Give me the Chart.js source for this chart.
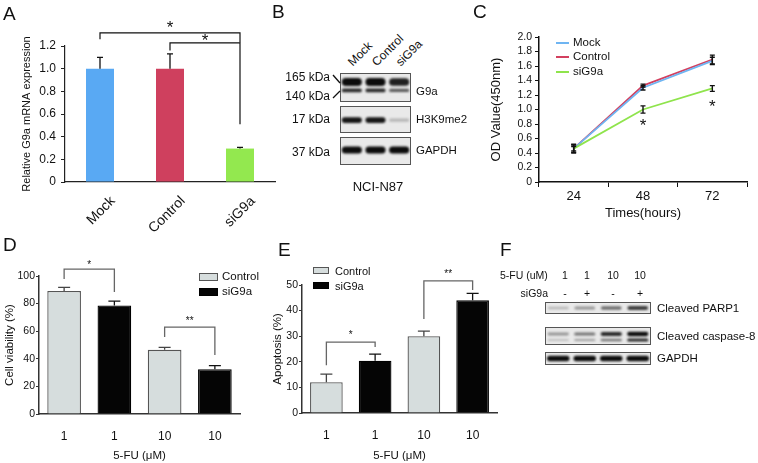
<!DOCTYPE html>
<html>
<head>
<meta charset="utf-8">
<script src="https://cdn.jsdelivr.net/npm/chart.js@4.4.1/dist/chart.umd.min.js"></script>
<style>
  html, body { margin: 0; padding: 0; background: #fff; }
  #fig { position: relative; width: 758px; height: 463px; overflow: hidden; font-family: 'Liberation Sans', Arial, sans-serif; color: #111; }
  #fig canvas, #fig svg { position: absolute; }
  .abs { position: absolute; white-space: nowrap; line-height: 1; }
  .swatch { position: absolute; box-sizing: border-box; }
</style>
</head>
<body>
<div id="fig"></div>
<script>
// A: relative G9a mRNA
const groupsA = ['Mock', 'Control', 'siG9a'];
const mrnaA = [1.0, 1.0, 0.295];
const mrnaErrA = [0.10, 0.13, 0.01];
const colorsA = ['#59a9f3', '#cf405e', '#93e84f'];
const sigA = [
  { from: 0, to: 2, y: 1.316, left: 1.26, right: 1.23, ty: 1.40, text: '*' },
  { from: 1, to: 2, y: 1.228, left: 1.16, right: 0.51, ty: 1.285, text: '*' },
];

// B: western blot, NCI-N87
const lanesB = ['Mock', 'Control', 'siG9a'];
const g9a165 = [1.0, 1.0, 0.9];
const g9a140 = [0.85, 0.85, 0.6];
const h3k9me2 = [0.95, 0.95, 0.12];
const gapdhB = [1, 1, 1];

// C: growth curve
const hoursC = ['24', '48', '72'];
const odMock = [0.46, 1.30, 1.67];
const odControl = [0.46, 1.33, 1.69];
const odSiG9a = [0.46, 1.00, 1.29];
const odErrMock = [0.06, 0.03, 0.05];
const odErrControl = [0.05, 0.02, 0.06];
const odErrSiG9a = [0.03, 0.05, 0.04];
const colorMock = '#6fb5f2';
const colorControl = '#d3405f';
const colorSiG9a = '#8fe44c';
const sigC = [
  { at: 1, ty: 0.83, text: '*' },
  { at: 2, ty: 1.09, text: '*' },
];

// D: cell viability
const doseLabels = ['1', '1', '10', '10'];
const viabilityControl = [89.2, null, 46.5, null];
const viabilityControlErr = [2.6, null, 1.8, null];
const viabilitySiG9a = [null, 78.6, null, 32.5];
const viabilitySiG9aErr = [null, 3.2, null, 2.6];
const sigD = [
  { from: 0, to: 1, y: 105, left: 97.8, right: 88.4, ty: 110, text: '*' },
  { from: 2, to: 3, y: 63, left: 55.8, right: 42.8, ty: 69.5, text: '**' },
];

// E: apoptosis
const apoptosisControl = [12, null, 30, null];
const apoptosisControlErr = [3.2, null, 2.0, null];
const apoptosisSiG9a = [null, 20.4, null, 44];
const apoptosisSiG9aErr = [null, 2.6, null, 2.7];
const sigE = [
  { from: 0, to: 1, y: 27.7, left: 18.7, right: 25.8, ty: 31.3, text: '*' },
  { from: 2, to: 3, y: 51.6, left: 36.7, right: 48, ty: 55.2, text: '**' },
];

// F: western blot, apoptosis markers
const doseF = ['1', '1', '10', '10'];
const siF = ['-', '+', '-', '+'];
const parp1 = [0.12, 0.3, 0.5, 0.75];
const casp8Upper = [0.3, 0.45, 0.85, 1.0];
const casp8Lower = [0.08, 0.25, 0.45, 0.85];
const gapdhF = [1, 1, 1, 1];

const controlFill = '#d6dddd';
const siFill = '#050505';

Chart.defaults.font.family = "'Liberation Sans', Arial, sans-serif";
Chart.defaults.color = '#111';
Chart.defaults.animation = false;
Chart.defaults.responsive = false;
Chart.defaults.devicePixelRatio = 1;
Chart.defaults.events = [];
Chart.defaults.plugins.legend.display = false;
Chart.defaults.plugins.tooltip.enabled = false;

const fig = document.getElementById('fig');

function makeCanvas(left, top, width, height) {
  const c = document.createElement('canvas');
  c.width = width;
  c.height = height;
  c.style.cssText = `left:${left}px;top:${top}px;width:${width}px;height:${height}px`;
  fig.appendChild(c);
  return c;
}

function text(str, x, y, size, align = 'left') {
  const d = document.createElement('div');
  d.className = 'abs';
  d.textContent = str;
  const tx = align === 'center' ? '-50%' : align === 'right' ? '-100%' : '0';
  d.style.cssText = `left:${x}px;top:${y}px;font-size:${size}px;transform:translate(${tx},-50%)`;
  fig.appendChild(d);
  return d;
}

function slanted(str, x, y, size) {
  const d = document.createElement('div');
  d.className = 'abs';
  d.textContent = str;
  d.style.cssText = `left:${x}px;top:${y}px;font-size:${size}px;transform-origin:0 0;transform:rotate(-45deg) translate(0,-50%)`;
  fig.appendChild(d);
}

function swatch(x, y, w, h, fill, border) {
  const d = document.createElement('div');
  d.className = 'swatch';
  d.style.cssText = `left:${x}px;top:${y}px;width:${w}px;height:${h}px;background:${fill};border:${border}`;
  fig.appendChild(d);
}

// error bars from dataset.errors
const errorBars = {
  id: 'errorBars',
  afterDatasetsDraw(chart, args, opts) {
    const { ctx } = chart;
    chart.data.datasets.forEach((ds, i) => {
      if (!ds.errors) return;
      const meta = chart.getDatasetMeta(i);
      const yScale = chart.scales[meta.yAxisID];
      meta.data.forEach((el, j) => {
        const v = ds.data[j];
        const e = ds.errors[j];
        if (v == null || e == null) return;
        const x = el.x;
        const top = yScale.getPixelForValue(v + e);
        const bottom = yScale.getPixelForValue(opts.both ? v - e : v);
        ctx.save();
        ctx.strokeStyle = ds.errorColor || opts.color;
        ctx.lineWidth = opts.width;
        ctx.beginPath();
        ctx.moveTo(x, top);
        ctx.lineTo(x, bottom);
        ctx.moveTo(x - opts.cap, top);
        ctx.lineTo(x + opts.cap, top);
        if (opts.both) {
          ctx.moveTo(x - opts.cap, bottom);
          ctx.lineTo(x + opts.cap, bottom);
        }
        ctx.stroke();
        ctx.restore();
      });
    });
  },
};

// significance brackets and stars
const sigMarks = {
  id: 'sigMarks',
  afterDraw(chart, args, opts) {
    const { ctx, scales: { x, y } } = chart;
    (opts.items || []).forEach(m => {
      ctx.save();
      ctx.strokeStyle = opts.color;
      ctx.fillStyle = opts.textColor || '#111';
      ctx.lineWidth = opts.width;
      let cx;
      if (m.from != null) {
        const x1 = x.getPixelForValue(m.from);
        const x2 = x.getPixelForValue(m.to);
        const yy = y.getPixelForValue(m.y);
        ctx.beginPath();
        ctx.moveTo(x1, y.getPixelForValue(m.left));
        ctx.lineTo(x1, yy);
        ctx.lineTo(x2, yy);
        ctx.lineTo(x2, y.getPixelForValue(m.right));
        ctx.stroke();
        cx = (x1 + x2) / 2;
      } else {
        cx = x.getPixelForValue(m.at);
      }
      ctx.font = `${opts.font}px 'Liberation Sans', Arial, sans-serif`;
      ctx.textAlign = 'center';
      ctx.textBaseline = 'alphabetic';
      ctx.fillText(m.text, cx, y.getPixelForValue(m.ty) + opts.font * 0.55);
      ctx.restore();
    });
  },
};

// blot membrane background, soft bands, frame
const membrane = {
  id: 'membrane',
  beforeDatasetsDraw(chart) {
    const { ctx, chartArea: a } = chart;
    ctx.save();
    ctx.fillStyle = '#e9e9e9';
    ctx.fillRect(a.left, a.top, a.width, a.height);
    ctx.restore();
    ctx.save();
    ctx.filter = 'blur(0.9px)';
  },
  afterDatasetsDraw(chart) {
    const { ctx, chartArea: a } = chart;
    ctx.restore();
    ctx.save();
    ctx.strokeStyle = '#555';
    ctx.lineWidth = 1;
    ctx.strokeRect(a.left + 0.5, a.top + 0.5, a.width - 1, a.height - 1);
    ctx.restore();
  },
};

function drawBlot(left, top, width, height, lanes, bands, bandWidth) {
  new Chart(makeCanvas(left, top, width, height), {
    type: 'bar',
    data: {
      labels: lanes,
      datasets: bands.map(b => ({
        data: b.levels.map(v => {
          const h = b.half * (0.5 + 0.5 * v);
          return [b.center - h, b.center + h];
        }),
        backgroundColor: b.levels.map(v => `rgba(12,12,12,${(0.12 + 0.88 * v).toFixed(2)})`),
        borderWidth: 0,
        borderRadius: 20,
        borderSkipped: false,
        barPercentage: bandWidth,
        categoryPercentage: 1,
        grouped: false,
      })),
    },
    options: {
      layout: { padding: 0 },
      scales: {
        x: { display: false },
        y: { display: false, min: 0, max: 1 },
      },
    },
    plugins: [membrane],
  });
}

const tickFmt = v => (v === 0 ? '0' : v.toFixed(1));

// ---------- A ----------
new Chart(makeCanvas(0, 0, 290, 240), {
  type: 'bar',
  data: {
    labels: groupsA,
    datasets: [{
      data: mrnaA,
      errors: mrnaErrA,
      backgroundColor: colorsA,
      barPercentage: 0.4,
      categoryPercentage: 1,
    }],
  },
  options: {
    layout: { padding: { top: 46, right: 15, left: 16, bottom: 0 } },
    scales: {
      x: {
        afterFit: s => { s.height = 58; },
        grid: { display: false },
        border: { color: '#222', width: 1.2 },
        ticks: { font: { size: 14 }, maxRotation: 45, minRotation: 45, padding: 3, labelOffset: 13 },
      },
      y: {
        min: 0,
        max: 1.2,
        afterFit: s => { s.width = 49; },
        grid: { drawOnChartArea: false, tickLength: 4, color: '#222' },
        border: { color: '#222', width: 1.2 },
        ticks: { stepSize: 0.2, autoSkip: false, font: { size: 12 }, padding: 5, callback: tickFmt },
        title: { display: true, text: 'Relative G9a mRNA expression', font: { size: 11 }, padding: { top: 4, bottom: 0 } },
      },
    },
    plugins: {
      errorBars: { color: '#111', width: 1.3, cap: 3 },
      sigMarks: { items: sigA, color: '#111', width: 1.2, font: 17 },
    },
  },
  plugins: [errorBars, sigMarks],
});

// ---------- B ----------
drawBlot(340, 73, 71, 29, lanesB, [
  { levels: g9a165, center: 0.69, half: 0.14 },
  { levels: g9a140, center: 0.40, half: 0.07 },
], 0.85);
drawBlot(340, 106, 71, 27, lanesB, [{ levels: h3k9me2, center: 0.48, half: 0.11 }], 0.85);
drawBlot(340, 137, 71, 28, lanesB, [{ levels: gapdhB, center: 0.54, half: 0.125 }], 0.85);

// ---------- C ----------
const lineStyle = { pointRadius: 0, borderWidth: 1.8, tension: 0, fill: false };
new Chart(makeCanvas(470, 0, 288, 228), {
  type: 'line',
  data: {
    labels: hoursC,
    datasets: [
      { label: 'siG9a', data: odSiG9a, errors: odErrSiG9a, borderColor: colorSiG9a, ...lineStyle },
      { label: 'Mock', data: odMock, errors: odErrMock, borderColor: colorMock, ...lineStyle },
      { label: 'Control', data: odControl, errors: odErrControl, borderColor: colorControl, ...lineStyle },
    ],
  },
  options: {
    layout: { padding: { top: 37, right: 11, left: 15, bottom: 3 } },
    scales: {
      x: {
        offset: true,
        afterFit: s => { s.height = 43; },
        grid: { offset: true, drawOnChartArea: false, tickLength: 5, color: '#111' },
        border: { color: '#111', width: 1.5 },
        ticks: { font: { size: 13 }, padding: 2 },
        title: { display: true, text: 'Times(hours)', font: { size: 13 }, padding: { top: 0, bottom: 4 } },
      },
      y: {
        min: 0,
        max: 2,
        afterFit: s => { s.width = 54; },
        grid: { drawOnChartArea: false, tickLength: 4, color: '#111' },
        border: { color: '#111', width: 1.5 },
        ticks: { stepSize: 0.2, autoSkip: false, font: { size: 10.5 }, padding: 3, callback: tickFmt },
        title: { display: true, text: 'OD Value(450nm)', font: { size: 13 }, padding: { top: 4, bottom: 0 } },
      },
    },
    plugins: {
      errorBars: { color: '#111', width: 1.4, cap: 2.5, both: true },
      sigMarks: { items: sigC, color: '#111', width: 1, font: 17 },
    },
  },
  plugins: [errorBars, sigMarks],
});

// ---------- D ----------
const barStyle = { barPercentage: 0.67, categoryPercentage: 1 };
new Chart(makeCanvas(0, 235, 258, 228), {
  type: 'bar',
  data: {
    labels: doseLabels,
    datasets: [
      { label: 'Control', data: viabilityControl, errors: viabilityControlErr, errorColor: '#444', backgroundColor: controlFill, borderColor: '#555', borderWidth: 1.3, ...barStyle },
      { label: 'siG9a', data: viabilitySiG9a, errors: viabilitySiG9aErr, errorColor: '#111', backgroundColor: siFill, borderColor: '#000', borderWidth: 1.3, ...barStyle },
    ],
  },
  options: {
    layout: { padding: { top: 41, right: 18, left: 0, bottom: 0 } },
    scales: {
      x: {
        stacked: true,
        afterFit: s => { s.height = 49; },
        grid: { display: false },
        border: { color: '#333', width: 1.5 },
        ticks: { font: { size: 12 }, padding: 7 },
        title: { display: true, text: '5-FU (μM)', font: { size: 11.5 }, padding: { top: 0, bottom: 0 } },
      },
      y: {
        min: 0,
        max: 100,
        afterFit: s => { s.width = 39; },
        grid: { drawOnChartArea: false, tickLength: 3, color: '#333' },
        border: { color: '#333', width: 1.5 },
        ticks: { stepSize: 20, autoSkip: false, font: { size: 10.5 }, padding: 1 },
        title: { display: true, text: 'Cell viability (%)', font: { size: 11.5 }, padding: { top: 3, bottom: 0 } },
      },
    },
    plugins: {
      errorBars: { color: '#333', width: 1.3, cap: 6 },
      sigMarks: { items: sigD, color: '#666', width: 1.3, font: 10 },
    },
  },
  plugins: [errorBars, sigMarks],
});

// ---------- E ----------
new Chart(makeCanvas(258, 235, 240, 228), {
  type: 'bar',
  data: {
    labels: doseLabels,
    datasets: [
      { label: 'Control', data: apoptosisControl, errors: apoptosisControlErr, errorColor: '#444', backgroundColor: controlFill, borderColor: '#555', borderWidth: 1.3, ...barStyle },
      { label: 'siG9a', data: apoptosisSiG9a, errors: apoptosisSiG9aErr, errorColor: '#111', backgroundColor: siFill, borderColor: '#000', borderWidth: 1.3, ...barStyle },
    ],
  },
  options: {
    layout: { padding: { top: 50, right: 1, left: 9, bottom: 0 } },
    scales: {
      x: {
        stacked: true,
        afterFit: s => { s.height = 50; },
        grid: { display: false },
        border: { color: '#333', width: 1.5 },
        ticks: { font: { size: 12 }, padding: 7 },
        title: { display: true, text: '5-FU (μM)', font: { size: 11.5 }, padding: { top: 0, bottom: 0 } },
      },
      y: {
        min: 0,
        max: 50,
        afterFit: s => { s.width = 35; },
        grid: { drawOnChartArea: false, tickLength: 3, color: '#333' },
        border: { color: '#333', width: 1.5 },
        ticks: { stepSize: 10, autoSkip: false, font: { size: 10.5 }, padding: 1 },
        title: { display: true, text: 'Apoptosis (%)', font: { size: 11.5 }, padding: { top: 4, bottom: 0 } },
      },
    },
    plugins: {
      errorBars: { color: '#333', width: 1.3, cap: 6 },
      sigMarks: { items: sigE, color: '#666', width: 1.3, font: 10 },
    },
  },
  plugins: [errorBars, sigMarks],
});

// ---------- F ----------
drawBlot(545, 302, 106, 12, doseF, [{ levels: parp1, center: 0.5, half: 0.2 }], 0.78);
drawBlot(545, 327, 106, 18, doseF, [
  { levels: casp8Upper, center: 0.61, half: 0.12 },
  { levels: casp8Lower, center: 0.28, half: 0.095 },
], 0.8);
drawBlot(545, 352, 106, 13, doseF, [{ levels: gapdhF, center: 0.5, half: 0.21 }], 0.85);

// ---------- labels ----------
text('A', 3, 13, 19);
text('B', 272, 11, 19);
text('C', 473, 11, 19);
text('D', 3, 244, 19);
text('E', 278, 249, 19);
text('F', 500, 249, 19);

// B annotations
lanesB.forEach((lane, i) => slanted(lane, 350 + i * 24, 64, 12));
text('165 kDa', 330, 77, 12, 'right');
text('140 kDa', 330, 96, 12, 'right');
text('17 kDa', 330, 119, 12, 'right');
text('37 kDa', 330, 152, 12, 'right');
text('G9a', 416, 92, 11.5);
text('H3K9me2', 416, 120, 11.5);
text('GAPDH', 416, 151, 11.5);
text('NCI-N87', 378, 186, 13, 'center');
const svgNS = 'http://www.w3.org/2000/svg';
const svg = document.createElementNS(svgNS, 'svg');
svg.setAttribute('width', '758');
svg.setAttribute('height', '463');
svg.style.left = '0px';
svg.style.top = '0px';
[[333, 75, 340, 83], [333, 98, 340, 91]].forEach(([x1, y1, x2, y2]) => {
  const l = document.createElementNS(svgNS, 'line');
  l.setAttribute('x1', x1); l.setAttribute('y1', y1);
  l.setAttribute('x2', x2); l.setAttribute('y2', y2);
  l.setAttribute('stroke', '#111'); l.setAttribute('stroke-width', '1.3');
  svg.appendChild(l);
});
fig.appendChild(svg);

// C legend
[['Mock', colorMock, 43], ['Control', colorControl, 57], ['siG9a', colorSiG9a, 72]].forEach(([name, color, y]) => {
  swatch(556, y - 1, 13, 2, color, 'none');
  text(name, 573, y, 11.5);
});

// D legend
swatch(199, 273, 19, 8, controlFill, '1px solid #555');
text('Control', 222, 277, 11.5);
swatch(199, 288, 19, 8, siFill, '1px solid #000');
text('siG9a', 222, 292, 11.5);

// E legend
swatch(313, 267, 16, 7, controlFill, '1px solid #555');
text('Control', 335, 271, 11);
swatch(313, 282, 16, 7, siFill, '1px solid #000');
text('siG9a', 335, 286, 11);

// F annotations
text('5-FU (uM)', 500, 275, 10.5);
doseF.forEach((d, i) => text(d, [565, 587, 613, 640][i], 275, 10.5, 'center'));
text('siG9a', 548, 293, 10.5, 'right');
siF.forEach((s, i) => text(s, [565, 587, 613, 640][i], 293, 10.5, 'center'));
text('Cleaved PARP1', 657, 309, 11.5);
text('Cleaved caspase-8', 657, 337, 11.5);
text('GAPDH', 657, 359, 11.5);
</script>
</body>
</html>
